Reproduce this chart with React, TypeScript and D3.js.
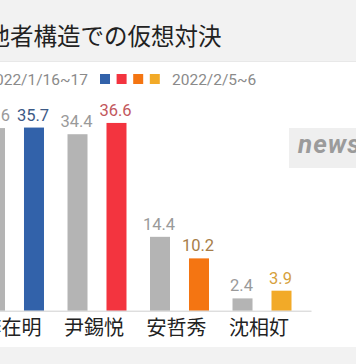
import React from "react";
import * as d3 from "d3";

const categories = ["李在明", "尹錫悦", "安哲秀", "沈相奵"];
const seriesKeys = ["jan", "feb"];
const janValues = [35.6, 34.4, 14.4, 2.4];
const febValues = [35.7, 36.6, 10.2, 3.9];
const febColors = ["#3262aa", "#f3343f", "#f47512", "#f2aa28"];
const febLabelColors = ["#3d5a86", "#c2575c", "#a77d48", "#d6a13c"];
const legendLabels = ["2022/1/16~17", "2022/2/5~6"];
const title = "他者構造での仮想対決";

const W = 356;
const H = 364;
const GREY = "#b4b4b4";
const CJK = "'Noto Sans CJK JP', 'Noto Sans', sans-serif";
const NUM = "Roboto, 'Noto Sans', sans-serif";

export default function App() {
  const baseline = 310.7;
  const y = d3.scaleLinear().domain([0, 40]).range([baseline, baseline - 40 * 5.13]);
  const x = d3.scaleBand<string>().domain(categories).range([-15, 291.5]).paddingInner(0.285).paddingOuter(0);
  const inner = d3.scaleBand<string>().domain(seriesKeys).range([0, x.bandwidth()]).paddingInner(0.487).paddingOuter(0);
  const bw = inner.bandwidth();

  return (
    <svg width={W} height={H} style={{ position: "absolute", left: 0, top: 0, background: "#fff" }}>
      <rect x={0} y={0} width={W} height={61} fill="#f2f2f2" />
      <line x1={0} x2={W} y1={61.5} y2={61.5} stroke="#e8e8e8" />
      <rect x={0} y={347} width={W} height={H - 347} fill="#f2f2f2" />
      <text x={-13.5} y={45} fontFamily={CJK} fontSize={23.5} fill="#222">{title}</text>

      {/* legend */}
      <text x={88} y={85} textAnchor="end" fontFamily={NUM} fontSize={15.5} fill="#8a8a8a">{legendLabels[0]}</text>
      {febColors.map((c, i) => (
        <rect key={c} x={100 + i * 16.6} y={74} width={10} height={10} fill={c} />
      ))}
      <text x={172} y={85} fontFamily={NUM} fontSize={15.5} fill="#8a8a8a">{legendLabels[1]}</text>

      {/* watermark */}
      <rect x={289} y={128} width={W - 289} height={40} fill="#efefef" />
      <text x={298} y={153} fontFamily={NUM} fontSize={26} fontWeight={700} fontStyle="italic" letterSpacing={1} fill="#9b9b9b">news</text>

      {categories.map((cat, i) => {
        const gx = x(cat)!;
        const jx = gx + inner("jan")!;
        const fx = gx + inner("feb")!;
        return (
          <g key={cat}>
            <rect x={jx} y={y(janValues[i])} width={bw} height={baseline - y(janValues[i])} fill={GREY} />
            <rect x={fx} y={y(febValues[i])} width={bw} height={baseline - y(febValues[i])} fill={febColors[i]} />
            <text x={jx + bw / 2 - 1} y={y(janValues[i]) - 7} textAnchor="middle" fontFamily={NUM} fontSize={16.5} fill="#9a9a9a">{janValues[i].toFixed(1)}</text>
            <text x={fx + bw / 2 - 1} y={y(febValues[i]) - 7} textAnchor="middle" fontFamily={NUM} fontSize={16.5} fontWeight={400} fill={febLabelColors[i]}>{febValues[i].toFixed(1)}</text>
            <text x={gx + x.bandwidth() / 2 - 3} y={335} textAnchor="middle" fontFamily={CJK} fontSize={20} fill="#222">{cat}</text>
          </g>
        );
      })}
      <line x1={0} x2={311.5} y1={baseline + 0.5} y2={baseline + 0.5} stroke="#cfcfcf" strokeWidth={1} />
    </svg>
  );
}
